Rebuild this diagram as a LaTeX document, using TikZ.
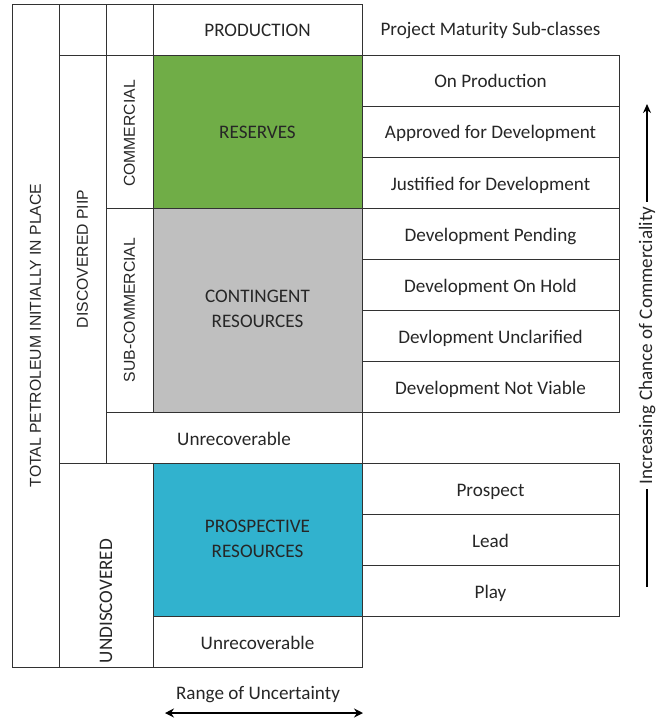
\documentclass[tikz,border=0pt]{standalone}
\usepackage{fontspec}
\setmainfont{Carlito}
\newfontfamily\arialf{Liberation Sans}
\usetikzlibrary{arrows.meta}
\definecolor{resgreen}{RGB}{112,173,71}
\definecolor{congrey}{RGB}{191,191,191}
\definecolor{prosblue}{RGB}{49,178,206}
\definecolor{txt}{RGB}{38,38,38}
\definecolor{bord}{RGB}{50,50,50}
\newcommand\mycell[7]{%
  \node[cell,#6,minimum width={(#4-#2)*1bp},minimum height={(#5-#3)*1bp}] (#1) at ({(#2+#4)/2},{(#3+#5)/2}) {#7};}
\begin{document}
\begin{tikzpicture}[x=1bp,y=-1bp,
  cell/.style={draw=bord,line width=0.85bp,inner sep=0pt,align=center,text=txt,
    text height=16bp,text depth=1bp,
    font=\fontsize{19.2}{25}\selectfont},
  vlab/.style={rotate=90,text=txt,font=\arialf\fontsize{15.8}{18}\selectfont,inner sep=0pt},
  vlabc/.style={rotate=90,text=txt,font=\fontsize{19.2}{22}\selectfont,inner sep=0pt},
  plain/.style={text=txt,font=\fontsize{19.2}{22}\selectfont,inner sep=0pt},
  twoline/.style={text=txt,font=\fontsize{19.2}{25}\selectfont,inner sep=0pt,align=center}]
\useasboundingbox (0,0) rectangle (657,724);
% left columns
\mycell{tpiip}{12}{4}{59}{667}{}{}
\node[vlab] (tpiipt) at (tpiip.center) {TOTAL PETROLEUM INITIALLY IN PLACE};
\mycell{topb}{59}{4}{106}{55}{}{}
\mycell{topc}{106}{4}{153}{55}{}{}
\mycell{prod}{153}{4}{362}{55}{}{PRODUCTION}
\node[plain] (pms) at (490.5,30) {Project Maturity Sub-classes};
\mycell{disc}{59}{55}{106}{463}{}{}
\node[vlab] (disct) at (disc.center) {DISCOVERED PIIP};
\mycell{comm}{106}{55}{153}{208}{}{}
\node[vlab] (commt) at ([yshift=-2bp]comm.center) {COMMERCIAL};
\mycell{subc}{106}{208}{153}{412}{}{}
\node[vlab] (subct) at (subc.center) {SUB-COMMERCIAL};
\mycell{res}{153}{55}{362}{208}{fill=resgreen}{RESERVES}
\mycell{cont}{153}{208}{362}{412}{fill=congrey}{}
\node[twoline] (contt) at ([yshift=1bp]cont.center) {CONTINGENT\\RESOURCES};
\mycell{unrec1}{106}{412}{362}{463}{}{Unrecoverable}
\mycell{undisc}{59}{463}{153}{667}{}{}
\node[vlabc] (undisct) at (106,601) {UNDISCOVERED};
\mycell{pros}{153}{463}{362}{616}{fill=prosblue}{}
\node[twoline] (prost) at ([yshift=1bp]pros.center) {PROSPECTIVE\\RESOURCES};
\mycell{unrec2}{153}{616}{362}{667}{}{Unrecoverable}
% right column
\mycell{e1}{362}{55}{619}{106}{}{On Production}
\mycell{e2}{362}{106}{619}{157}{}{Approved for Development}
\mycell{e3}{362}{157}{619}{208}{}{Justified for Development}
\mycell{e4}{362}{208}{619}{259}{}{Development Pending}
\mycell{e5}{362}{259}{619}{310}{}{Development On Hold}
\mycell{e6}{362}{310}{619}{361}{}{Devlopment Unclarified}
\mycell{e7}{362}{361}{619}{412}{}{Development Not Viable}
\mycell{e8}{362}{463}{619}{514}{}{Prospect}
\mycell{e9}{362}{514}{619}{565}{}{Lead}
\mycell{e10}{362}{565}{619}{616}{}{Play}
% arrows
\coordinate (ha1) at (165,713);
\coordinate (ha2) at (363,713);
\draw[line width=2.2bp,{Stealth[length=9bp,width=9bp]}-{Stealth[length=9bp,width=9bp]}] (ha1) -- (ha2);
\node[plain] (rou) at (258,695) {Range of Uncertainty};
\coordinate (va1) at (647,587);
\coordinate (va2) at (647,104);
\draw[line width=1.6bp,-{Stealth[length=9bp,width=8bp]}] (va1) -- (va2)
  node[midway,fill=white,rotate=90,text=txt,font=\fontsize{19.2}{22}\selectfont,inner xsep=5bp,inner ysep=0pt] (icc) {Increasing Chance of Commerciality};
\end{tikzpicture}
\end{document}
